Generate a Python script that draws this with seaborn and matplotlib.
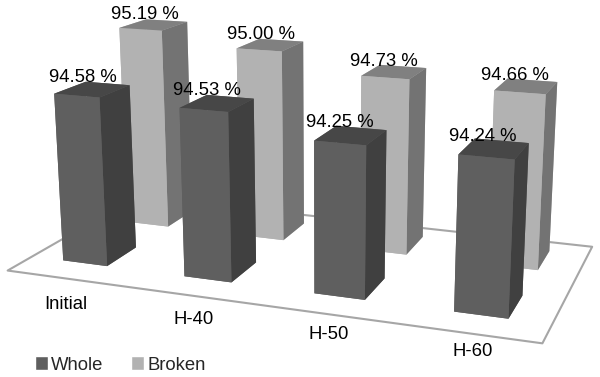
import matplotlib
matplotlib.use("Agg")
import matplotlib.pyplot as plt
from matplotlib.patches import Patch
from mpl_toolkits.mplot3d.art3d import Poly3DCollection
import seaborn as sns

categories = ["Initial", "H-40", "H-50", "H-60"]
whole = [94.58, 94.53, 94.25, 94.24]
broken = [95.19, 95.00, 94.73, 94.66]
series_names = ["Whole", "Broken"]
baseline = 92.18

sns.set_theme(style="white")
plt.rcParams["font.family"] = ["Liberation Sans", "DejaVu Sans"]
palette = sns.color_palette(["#5f5f5f", "#b2b2b2"])

# bottom, top, front, back, left, right
whole_faces = ["#5f5f5f", "#474747", "#5f5f5f", "#5f5f5f", "#5f5f5f", "#404040"]
broken_faces = ["#b2b2b2", "#808080", "#b2b2b2", "#b2b2b2", "#b2b2b2", "#737373"]

fig = plt.figure(figsize=(6, 3.77), dpi=100)
ax = fig.add_axes([-0.008, -0.288, 1.067, 1.7], projection="3d")
ax.computed_zorder = False
ax.set_proj_type("persp", focal_length=0.38)
ax.view_init(elev=15, azim=-70)
ax.set_box_aspect((4.2, 2.0, 1.6), zoom=1.02)
ax.set_axis_off()

ax.set_xlim(-0.46, 3.74)
ax.set_ylim(-0.55, 1.45)
ax.set_zlim(baseline, 95.2)

floor = [(-0.46, -0.55, baseline), (3.47, -0.55, baseline), (3.47, 1.45, baseline), (-0.46, 1.45, baseline)]
ax.add_collection3d(Poly3DCollection([floor], facecolor="white", edgecolor="#a6a6a6", linewidth=1.5, zorder=1))

bar_w = 0.37
bar_d = 0.45

def draw_bars(values, y, faces, zorder):
    for i, v in enumerate(values):
        ax.bar3d(i - bar_w / 2, y - bar_d / 2, baseline, bar_w, bar_d, v - baseline,
                 color=faces, shade=False, linewidth=0, zorder=zorder + i)

draw_bars(broken, 1, broken_faces, 2)
draw_bars(whole, 0, whole_faces, 10)

for i, (w, b) in enumerate(zip(whole, broken)):
    ax.text(i - 0.08, 0, w + 0.04, f"{w:.2f} %", ha="center", va="bottom", fontsize=13.3, color="black", zorder=30)
    ax.text(i - 0.08, 1, b + 0.02, f"{b:.2f} %", ha="center", va="bottom", fontsize=13.3, color="black", zorder=30)
    ax.text(i + 0.30 - 0.069 * i, -1.0 + 0.055 * i, baseline, categories[i], ha="center", va="center",
            fontsize=13.3, color="black", zorder=30)

handles = [Patch(facecolor=palette[k], label=series_names[k]) for k in range(2)]
fig.legend(handles=handles, loc="lower left", bbox_to_anchor=(0.03, -0.035), ncol=2, frameon=False,
           fontsize=13.3, handlelength=0.7, handleheight=0.8, handletextpad=0.2, columnspacing=1.5)

fig.savefig("out.png", dpi=100)
